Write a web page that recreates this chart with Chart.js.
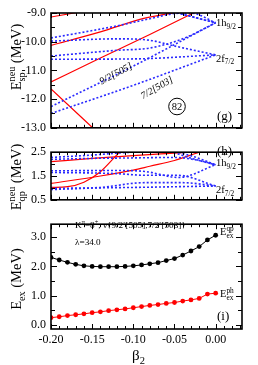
<!DOCTYPE html>
<html>
<head>
<meta charset="utf-8">
<script src="https://cdn.jsdelivr.net/npm/chart.js@4"></script>
<style>
html, body { margin: 0; padding: 0; background: #fff; }
#wrap { position: relative; width: 258px; height: 365px; }
canvas { position: absolute; left: 0; }
</style>
</head>
<body>
<div id="wrap">
  <canvas id="g" style="top:0px" width="258" height="140"></canvas>
  <canvas id="h" style="top:140px" width="258" height="72"></canvas>
  <canvas id="i" style="top:212px" width="258" height="153"></canvas>
</div>
<script>
// ---- data ----
const beta = [-0.20, -0.19, -0.18, -0.17, -0.16, -0.15, -0.14, -0.13, -0.12, -0.11, -0.10,
              -0.09, -0.08, -0.07, -0.06, -0.05, -0.04, -0.03, -0.02, -0.01, 0.00];
const exQP = [2.31, 2.22, 2.14, 2.07, 2.02, 2.00, 1.99, 1.99, 1.99, 2.00, 2.02,
              2.05, 2.09, 2.13, 2.20, 2.27, 2.39, 2.53, 2.68, 2.91, 3.07];
const exPH = [0.24, 0.27, 0.31, 0.34, 0.37, 0.41, 0.44, 0.48, 0.51, 0.54, 0.58,
              0.62, 0.66, 0.69, 0.73, 0.76, 0.81, 0.85, 0.90, 1.05, 1.08];

// single particle levels (g), [beta, E]
const spRedLines = [
  [[-0.20, -9.14], [-0.14, -8.84]],
  [[-0.20, -10.13], [-0.14, -9.66], [-0.086, -9.18], [-0.03, -8.90]],
  [[-0.20, -11.40], [-0.14, -10.57], [-0.08, -9.75], [-0.02, -8.90]],
  [[-0.20, -11.65], [-0.14, -13.25]]
];
const spBlueLines = [
  [[-0.20, -12.26], [-0.10, -10.85], [0.00, -9.34]],
  [[-0.20, -12.50], [-0.10, -11.52], [0.00, -10.46]],
  [[-0.20, -10.61], [-0.10, -10.60], [0.00, -10.46]],
  [[-0.20, -10.50], [-0.12, -10.30], [-0.08, -10.22], [-0.04, -9.90], [0.00, -9.34]],
  [[-0.20, -9.98], [-0.12, -9.90], [-0.08, -9.95], [-0.05, -10.15], [0.00, -10.46]],
  [[-0.20, -9.87], [-0.12, -9.45], [-0.08, -9.20], [-0.05, -9.02], [-0.03, -9.00], [0.00, -9.34]],
  [[-0.10, -8.70], [-0.05, -8.98], [0.00, -9.34]],
  [[-0.07, -8.80], [-0.035, -9.08], [0.00, -9.34]]
];

// quasiparticle levels (h)
const qpRedLines = [
  [[-0.20, 2.10], [-0.15, 2.24], [-0.10, 2.36], [-0.05, 2.46], [-0.02, 2.52]],
  [[-0.20, 1.02], [-0.18, 1.05], [-0.16, 1.24], [-0.14, 1.68], [-0.12, 2.39], [-0.114, 2.60]],
  [[-0.20, 1.19], [-0.14, 1.50], [-0.10, 1.75], [-0.08, 1.91], [-0.05, 2.15], [-0.02, 2.50], [-0.01, 2.60]]
];
const qpBlueLines = [
  [[-0.20, 2.28], [-0.15, 2.38], [-0.12, 2.46], [-0.09, 2.52], [-0.06, 2.56], [-0.03, 2.35], [0.00, 1.97]],
  [[-0.20, 2.20], [-0.15, 2.24], [-0.10, 2.26], [-0.05, 2.28], [-0.02, 2.15], [0.00, 1.97]],
  [[-0.20, 1.72], [-0.12, 1.73], [-0.086, 1.69], [-0.045, 1.44], [0.00, 1.97]],
  [[-0.20, 1.65], [-0.12, 1.60], [-0.086, 1.53], [-0.046, 1.53], [0.00, 1.08]],
  [[-0.20, 0.98], [-0.10, 1.02], [0.00, 1.08]],
  [[-0.20, 0.93], [-0.14, 1.02], [-0.086, 1.22], [-0.04, 1.22], [0.00, 1.08]],
  [[-0.06, 2.60], [-0.03, 2.25], [0.00, 1.97]]
];

const xTicks = [-0.20, -0.15, -0.10, -0.05, 0.00];
const spTicks = [-9.0, -10.0, -11.0, -12.0, -13.0];
const qpTicks = [2.5, 1.5, 0.5];
const exTicks = [0.0, 1.0, 2.0, 3.0];

// ---- helpers ----
const SERIF = '"Liberation Serif", "Times New Roman", serif';
const RED = '#ff0000';
const BLUE = '#2a2aff';

function font(size) { return size + 'px ' + SERIF; }

// parts: {t} normal text, {sup, sub} raised / lowered small text
function partsWidth(ctx, parts, size) {
  let w = 0;
  parts.forEach(p => {
    if (p.t !== undefined) { ctx.font = font(size); w += ctx.measureText(p.t).width; }
    else {
      ctx.font = font(size * 0.7);
      w += Math.max(p.sup ? ctx.measureText(p.sup).width : 0, p.sub ? ctx.measureText(p.sub).width : 0);
    }
  });
  return w;
}
function drawParts(ctx, x, y, parts, size) {
  ctx.textAlign = 'left';
  ctx.textBaseline = 'alphabetic';
  parts.forEach(p => {
    if (p.t !== undefined) {
      ctx.font = font(size);
      ctx.fillText(p.t, x, y);
      x += ctx.measureText(p.t).width;
    } else {
      ctx.font = font(size * 0.7);
      let w = 0;
      if (p.sup) { ctx.fillText(p.sup, x, y - size * 0.42); w = ctx.measureText(p.sup).width; }
      if (p.sub) { ctx.fillText(p.sub, x, y + size * 0.28); w = Math.max(w, ctx.measureText(p.sub).width); }
      x += w;
    }
  });
}
function yTitle(ctx, cx, cy, parts, size) {
  ctx.save();
  ctx.translate(cx, cy);
  ctx.rotate(-Math.PI / 2);
  ctx.fillStyle = '#000';
  drawParts(ctx, -partsWidth(ctx, parts, size) / 2, 0, parts, size);
  ctx.restore();
}

const framePlugin = {
  id: 'frame',
  afterDatasetsDraw(chart, args, o) {
    const { ctx, chartArea: a, scales } = chart;
    const xs = scales.x, ys = scales.y;
    ctx.save();
    ctx.strokeStyle = '#000';
    ctx.lineWidth = 1;
    ctx.beginPath();
    for (let k = -20; k <= 3; k++) {
      const px = Math.round(xs.getPixelForValue(k / 100)) + 0.5;
      const len = k % 5 === 0 ? 5 : 3;
      ctx.moveTo(px, a.bottom); ctx.lineTo(px, a.bottom - len);
      ctx.moveTo(px, a.top); ctx.lineTo(px, a.top + len);
    }
    const n0 = Math.ceil(o.yMin / o.yMinor - 1e-6), n1 = Math.floor(o.yMax / o.yMinor + 1e-6);
    for (let k = n0; k <= n1; k++) {
      const v = k * o.yMinor;
      const py = Math.round(ys.getPixelForValue(v)) + 0.5;
      const major = o.yMajor.some(m => Math.abs(m - v) < 1e-6);
      const len = major ? 6 : 4;
      ctx.moveTo(a.left, py); ctx.lineTo(a.left + len, py);
      ctx.moveTo(a.right, py); ctx.lineTo(a.right - len, py);
    }
    ctx.stroke();
    ctx.lineWidth = 1.6;
    ctx.strokeRect(a.left, a.top, a.right - a.left, a.bottom - a.top);
    ctx.fillStyle = '#000';
    if (o.draw) o.draw(ctx, chart);
    ctx.restore();
  }
};

function lineSet(pts, color, dotted) {
  return {
    data: pts.map(p => ({ x: p[0], y: p[1] })),
    showLine: true,
    borderColor: color,
    backgroundColor: color,
    borderWidth: dotted ? 1.6 : 1.2,
    borderDash: dotted ? [2, 2] : [],
    pointRadius: 0,
    tension: 0.35,
    cubicInterpolationMode: 'monotone'
  };
}

function makePanel(id, datasets, yMin, yMax, yLabels, yMinor, pad, showX, decimals, draw) {
  return new Chart(document.getElementById(id), {
    type: 'scatter',
    data: { datasets },
    plugins: [framePlugin],
    options: {
      responsive: false,
      animation: false,
      events: [],
      layout: { padding: pad },
      plugins: {
        legend: { display: false },
        tooltip: { enabled: false },
        frame: { yMin, yMax, yMajor: yLabels, yMinor, draw }
      },
      scales: {
        x: {
          type: 'linear', min: -0.2, max: 0.032,
          display: showX,
          grid: { display: false, drawTicks: false },
          border: { display: false },
          afterBuildTicks: s => { s.ticks = xTicks.map(v => ({ value: v })); },
          afterFit: s => { if (showX) s.height = 36; },
          ticks: {
            padding: 4, color: '#000', autoSkip: false, maxRotation: 0,
            font: { family: SERIF, size: 12 },
            callback: v => Number(v).toFixed(2)
          }
        },
        y: {
          type: 'linear', min: yMin, max: yMax,
          grid: { display: false, drawTicks: false },
          border: { display: false },
          afterBuildTicks: s => { s.ticks = yLabels.map(v => ({ value: v })); },
          afterFit: s => { s.width = 51; },
          ticks: {
            padding: 5, color: '#000', autoSkip: false,
            font: { family: SERIF, size: 12 },
            callback: v => Number(v).toFixed(decimals)
          }
        }
      }
    }
  });
}

// ---- panel (g) ----
makePanel('g',
  spBlueLines.map(l => lineSet(l, BLUE, true)).concat(spRedLines.map(l => lineSet(l, RED, false))),
  -13, -9, spTicks, 0.5, { top: 13, bottom: 6, left: 0, right: 16 }, false, 1,
  (ctx) => {
    yTitle(ctx, 21, 57, [{ t: 'E' }, { sup: 'neu', sub: 'sp' }, { t: ' (MeV)' }], 14.5);
    drawParts(ctx, 216, 26, [{ t: '1h' }, { sub: '9/2' }], 10.5);
    drawParts(ctx, 216, 61.5, [{ t: '2f' }, { sub: '7/2' }], 10.5);
    ctx.font = font(13); ctx.textAlign = 'left';
    ctx.fillText('(g)', 217, 120);
    ctx.lineWidth = 1;
    ctx.beginPath(); ctx.arc(177, 106.5, 8.3, 0, Math.PI * 2); ctx.stroke();
    ctx.font = font(10.5); ctx.textAlign = 'center'; ctx.textBaseline = 'middle';
    ctx.fillText('82', 177, 107);
    ctx.save(); ctx.translate(116, 74); ctx.rotate(-28 * Math.PI / 180);
    ctx.font = 'italic ' + font(10); ctx.fillText('9/2[505]', 0, 0); ctx.restore();
    ctx.save(); ctx.translate(157, 88); ctx.rotate(-30 * Math.PI / 180);
    ctx.font = 'italic ' + font(10); ctx.fillText('7/2[503]', 0, 0); ctx.restore();
  });

// ---- panel (h) ----
makePanel('h',
  qpBlueLines.map(l => lineSet(l, BLUE, true)).concat(qpRedLines.map(l => lineSet(l, RED, false))),
  0.5, 2.5, qpTicks, 0.5, { top: 5, bottom: 6, left: 0, right: 16 }, false, 1,
  (ctx) => {
    yTitle(ctx, 21, 37, [{ t: 'E' }, { sup: 'neu', sub: 'qp' }, { t: ' (MeV)' }], 14.5);
    ctx.font = font(13); ctx.textAlign = 'left';
    ctx.fillText('(h)', 217, 15);
    drawParts(ctx, 216, 26, [{ t: '1h' }, { sub: '9/2' }], 10.5);
    drawParts(ctx, 216, 53, [{ t: '2f' }, { sub: '7/2' }], 10.5);
  });

// ---- panel (i) ----
const dotSet = (vals, color) => ({
  data: beta.map((b, k) => ({ x: b, y: vals[k] })),
  showLine: true,
  borderColor: color,
  backgroundColor: color,
  borderWidth: 1,
  pointRadius: 2.4,
  pointBorderWidth: 0
});
makePanel('i',
  [dotSet(exQP, '#000'), dotSet(exPH, RED)],
  -0.15, 3.45, exTicks, 0.5, { top: 5, bottom: 0, left: 0, right: 16 }, true, 1,
  (ctx) => {
    yTitle(ctx, 21, 67, [{ t: 'E' }, { sub: 'ex' }, { t: ' (MeV)' }], 14.5);
    drawParts(ctx, 75, 16, [{ t: 'K' }, { sup: 'π' }, { t: '=8' }, { sup: '+' }, { t: ', ν{9/2' }, { sup: '-' },
      { t: '[505],7/2' }, { sup: '-' }, { t: '[503]}' }], 9.2);
    drawParts(ctx, 75, 33, [{ t: 'λ=34.0' }], 9.2);
    drawParts(ctx, 220, 23, [{ t: 'E' }, { sup: 'qp', sub: 'ex' }], 10.5);
    drawParts(ctx, 220, 85, [{ t: 'E' }, { sup: 'ph', sub: 'ex' }], 10.5);
    ctx.font = font(13); ctx.textAlign = 'left';
    ctx.fillText('(i)', 217, 108);
    drawParts(ctx, 132, 148, [{ t: 'β' }, { sub: '2' }], 15);
  });
</script>
</body>
</html>
